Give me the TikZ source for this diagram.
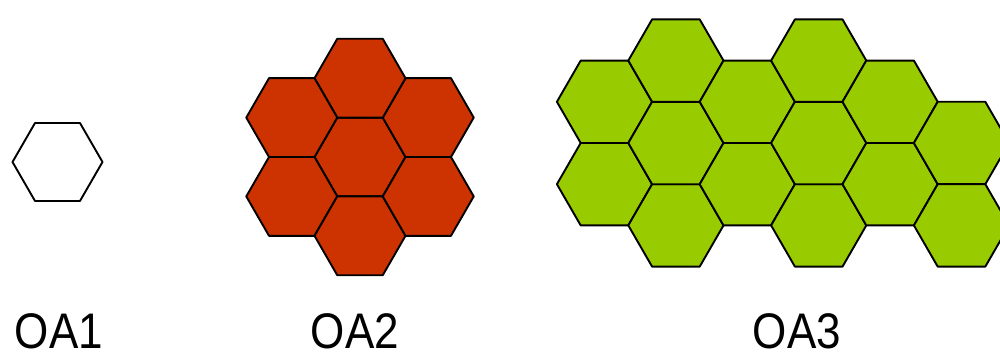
\documentclass[tikz,border=0pt]{standalone}
\usepackage{fontspec}
\newfontfamily\labelfont[FakeStretch=0.88]{Liberation Sans}
\usepackage{tikz}
\definecolor{oared}{HTML}{CC3300}
\definecolor{oagreen}{HTML}{99CC00}
% one flat-topped hexagon: centre x, centre y, radius, style
\newcommand{\hexcell}[4]{%
  \draw[#4] ({#1},{#2}) ++(0:#3) -- ++(120:#3) -- ++(180:#3) -- ++(240:#3)
    -- ++(300:#3) -- ++(0:#3) -- cycle;}

\begin{document}
\begin{tikzpicture}[x=1pt,y=1pt,
    cell/.style={draw=black,line width=1.9pt,line join=round},
    oalabel/.style={anchor=base,inner sep=0pt,font=\labelfont\fontsize{50}{50}\selectfont}]
  \useasboundingbox (0,0) rectangle (1000,353);
  \clip (0,0) rectangle (1000,353);
  % OA1
  \hexcell{57.5}{191}{45}{cell,fill=white}
  % OA2
  \hexcell{360}{196}{45.5}{cell,fill=oared}
  \foreach \a in {30,90,...,330}
    \hexcell{360+78.8*cos(\a)}{196+78.8*sin(\a)}{45.5}{cell,fill=oared};
  % OA3
  \foreach \k/\n in {0/1,1/0,2/1,3/0,4/1}{
    \foreach \r in {-2,0,2}{
      \pgfmathsetmacro{\yy}{210+41.2*(\r+\n)}
      \ifdim\yy pt>300pt\else
        \hexcell{604.5+71.4*\k}{\yy}{47.6}{cell,fill=oagreen}
      \fi
    }}
  \hexcell{961.5}{210}{47.6}{cell,fill=oagreen}
  \hexcell{961.5}{127.6}{47.6}{cell,fill=oagreen}
  % labels
  \node[oalabel] (oa1) at (59,5) {OA1};
  \node[oalabel] (oa2) at (355,5) {OA2};
  \node[oalabel] (oa3) at (797,5) {OA3};
\end{tikzpicture}
\end{document}
